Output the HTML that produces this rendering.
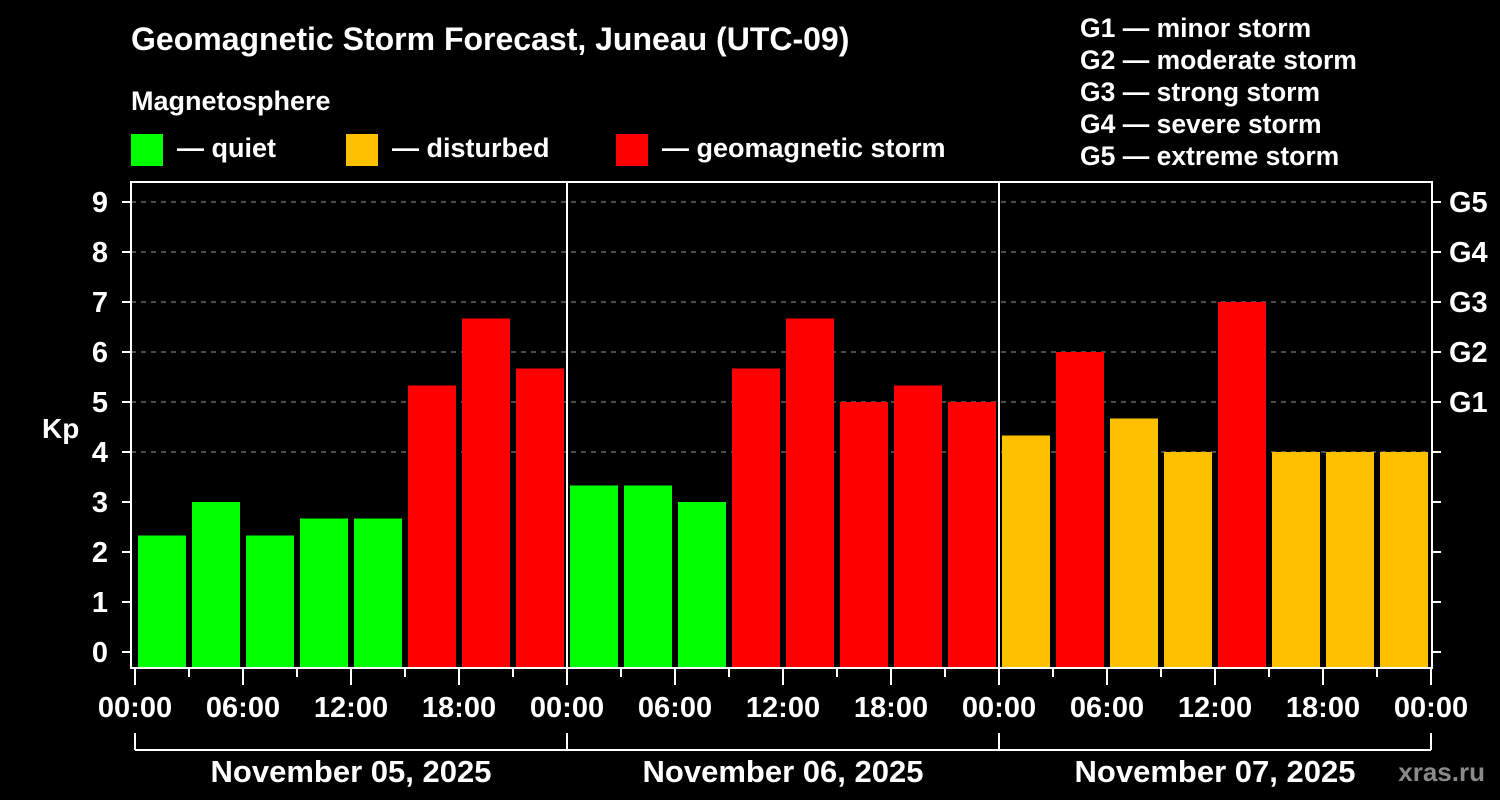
<!DOCTYPE html>
<html><head><meta charset="utf-8"><style>
body{margin:0;background:#000;width:1500px;height:800px;overflow:hidden}
svg{display:block}
text{font-family:"Liberation Sans",Arial,sans-serif;font-weight:bold;fill:#fff}
</style></head><body>
<svg id="c" width="1500" height="800">
<text x="131" y="50" font-size="32">Geomagnetic Storm Forecast, Juneau (UTC-09)</text>
<text x="131" y="110" font-size="27">Magnetosphere</text>
<rect x="131" y="134" width="32" height="32" fill="#00ff00"/>
<text x="177" y="157" font-size="27">— quiet</text>
<rect x="346" y="134" width="32" height="32" fill="#ffc000"/>
<text x="392" y="157" font-size="27">— disturbed</text>
<rect x="616" y="134" width="32" height="32" fill="#ff0000"/>
<text x="662" y="157" font-size="27">— geomagnetic storm</text>
<g font-size="26.5">
<text x="1080" y="37">G1 — minor storm</text>
<text x="1080" y="69">G2 — moderate storm</text>
<text x="1080" y="101">G3 — strong storm</text>
<text x="1080" y="133">G4 — severe storm</text>
<text x="1080" y="165">G5 — extreme storm</text>
</g>
<text x="42" y="438" font-size="28">Kp</text>
<text x="1485" y="781" font-size="26" text-anchor="end" style="fill:#8a8a8a">xras.ru</text>
<g id="plot"></g>
</svg>
<script>
const kpValues=[2.33,3,2.33,2.67,2.67,5.33,6.67,5.67, 3.33,3.33,3,5.67,6.67,5,5.33,5, 4.33,6,4.67,4,7,4,4,4];
const dayLabels=["November 05, 2025","November 06, 2025","November 07, 2025"];
const hourLabels=["00:00","06:00","12:00","18:00"];
const yTicks=[0,1,2,3,4,5,6,7,8,9];
const gLabels=["G1","G2","G3","G4","G5"];
const NS="http://www.w3.org/2000/svg";
const g=document.getElementById('plot');
const L=131,R=1432,T=182,B=668;
const x=h=>135+h*18;
const y=v=>652-50*v;
function mk(t,a,p){const e=document.createElementNS(NS,t);for(const k in a)e.setAttribute(k,a[k]);(p||g).appendChild(e);return e;}
yTicks.forEach(v=>{
 if(v>=4){const ln=mk('line',{x1:L,x2:R,y1:y(v),y2:y(v),stroke:'#999','stroke-width':1,'stroke-dasharray':'5,5'});
 
 }
});
kpValues.forEach((v,i)=>{
 const c=v>=5?'#ff0000':(v>=4?'#ffc000':'#00ff00');
 const r=mk('rect',{x:x(i*3)+3,y:y(v),width:48,height:B-y(v),fill:c});
 
 
});
[1,2].forEach(d=>{mk('line',{x1:x(d*24),x2:x(d*24),y1:T,y2:B,stroke:'#fff','stroke-width':2});});
const fr=mk('rect',{x:L,y:T,width:R-L,height:B-T,fill:'none',stroke:'#fff','stroke-width':2});


yTicks.forEach(v=>{
 mk('line',{x1:122,x2:L,y1:y(v),y2:y(v),stroke:'#fff','stroke-width':2});
 mk('line',{x1:R,x2:1441,y1:y(v),y2:y(v),stroke:'#fff','stroke-width':2});
 const t=mk('text',{x:108,y:y(v)+10,'font-size':29,'text-anchor':'end'});t.textContent=v;
 
 
});
gLabels.forEach((s,i)=>{const t=mk('text',{x:1449,y:y(5+i)+10,'font-size':29});t.textContent=s;
 
 });
for(let h=0;h<=72;h+=3){
 const major=h%6===0;
 mk('line',{x1:x(h),x2:x(h),y1:B,y2:major?685:677,stroke:'#fff','stroke-width':2});
 if(major){const t=mk('text',{x:x(h),y:717,'font-size':29,'text-anchor':'middle'});t.textContent=hourLabels[(h/6)%4];
 
 }
}
mk('line',{x1:x(0),x2:x(72),y1:750,y2:750,stroke:'#fff','stroke-width':2});
for(let d=0;d<=3;d++)mk('line',{x1:x(d*24),x2:x(d*24),y1:733,y2:750,stroke:'#fff','stroke-width':2});
dayLabels.forEach((s,d)=>{const t=mk('text',{x:x(d*24+12),y:782,'font-size':31,'text-anchor':'middle'});t.textContent=s;
 
 });
</script>
</body></html>
